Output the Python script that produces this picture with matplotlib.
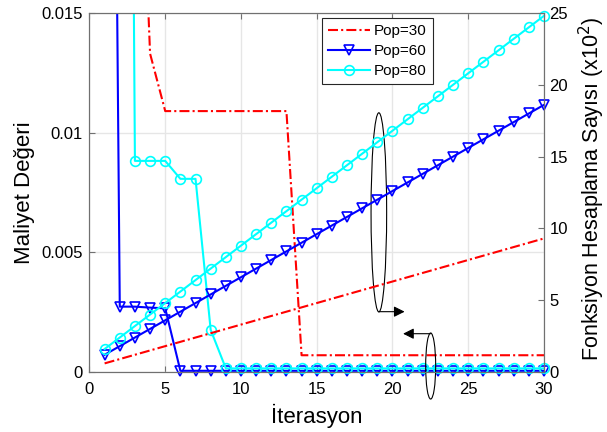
import numpy as np
import matplotlib
matplotlib.use("Agg")
import matplotlib.pyplot as plt
from matplotlib.patches import Ellipse

plt.rcParams['font.family'] = ['Liberation Sans', 'DejaVu Sans']

iterations = list(range(1, 31))

# cost values (left axis)
cost_pop30 = [0.06, 0.04, 0.029, 0.0133] + [0.0109] * 9 + [0.0007] * 17
cost_pop60 = [0.075, 0.00273, 0.00273, 0.00269, 0.00266] + [0.00005] * 25
cost_pop80 = [0.15, 0.1, 0.00882, 0.00882, 0.00882, 0.00807, 0.00807,
              0.00176] + [0.00015] * 22

# function evaluation counts, x10^2 (right axis)
evals_pop30 = [0.6, 0.9, 1.2, 1.5, 1.8, 2.1, 2.4, 2.7, 3.0, 3.3,
               3.6, 3.9, 4.2, 4.5, 4.8, 5.1, 5.4, 5.7, 6.0, 6.3,
               6.6, 6.9, 7.2, 7.5, 7.8, 8.1, 8.4, 8.7, 9.0, 9.3]
evals_pop60 = [1.2, 1.8, 2.4, 3.0, 3.6, 4.2, 4.8, 5.4, 6.0, 6.6,
               7.2, 7.8, 8.4, 9.0, 9.6, 10.2, 10.8, 11.4, 12.0, 12.6,
               13.2, 13.8, 14.4, 15.0, 15.6, 16.2, 16.8, 17.4, 18.0, 18.6]
evals_pop80 = [1.6, 2.4, 3.2, 4.0, 4.8, 5.6, 6.4, 7.2, 8.0, 8.8,
               9.6, 10.4, 11.2, 12.0, 12.8, 13.6, 14.4, 15.2, 16.0, 16.8,
               17.6, 18.4, 19.2, 20.0, 20.8, 21.6, 22.4, 23.2, 24.0, 24.8]

labels = ['Pop=30', 'Pop=60', 'Pop=80']
left_ticks = [0, 0.005, 0.01, 0.015]
left_ticklabels = ['0', '0.005', '0.01', '0.015']
right_ticks = [0, 5, 10, 15, 20, 25]
x_ticks = [0, 5, 10, 15, 20, 25, 30]

fig = plt.figure(figsize=(6.07, 4.32), dpi=100)
ax = fig.add_axes([0.1474, 0.1389, 0.7488, 0.8311])
ax2 = ax.twinx()

red_dash = [4.8, 1.5, 1, 1.5]
styles = [
    dict(color='#ff0000', lw=1.5, dashes=red_dash, marker=None),
    dict(color='#0000ff', lw=1.5, marker='v', ms=7, mfc='none', mew=1.2),
    dict(color='#00ffff', lw=1.5, marker='o', ms=7, mfc='none', mew=1.2),
]
costs = [cost_pop30, cost_pop60, cost_pop80]
evals = [evals_pop30, evals_pop60, evals_pop80]

x = np.array(iterations)
handles = []
for st, c, e, lab in zip(styles, costs, evals, labels):
    c = np.array(c)
    line_kw = {k: v for k, v in st.items() if k in ('color', 'lw', 'dashes')}
    ax.plot(x, c, **line_kw)
    if st['marker']:
        inside = c <= 0.015
        ax.plot(x[inside], c[inside], ls='none', marker=st['marker'],
                ms=st['ms'], mfc='none', mew=st['mew'], color=st['color'],
                clip_on=False)
    h, = ax2.plot(x, e, clip_on=False, label=lab, **st)
    handles.append(h)

ax.set_xlim(0, 30)
ax.set_ylim(0, 0.015)
ax2.set_ylim(0, 25)
ax.set_xticks(x_ticks)
ax.set_yticks(left_ticks)
ax.set_yticklabels(left_ticklabels)
ax2.set_yticks(right_ticks)

ax.grid(True, color='#e6e6e6', lw=1)
ax.set_axisbelow(True)
for a in (ax, ax2):
    for s in a.spines.values():
        s.set_color('#707070')
        s.set_linewidth(0.8)
ax.tick_params(axis='x', direction='in', top=True, length=4, width=0.8,
               color='#707070', labelsize=12, pad=7)
ax.tick_params(axis='y', direction='in', length=4, width=0.8,
               color='#707070', labelsize=12, pad=5)
ax2.tick_params(axis='y', direction='in', length=4, width=0.8,
                color='#707070', labelsize=12, pad=4)

ax.set_xlabel('İterasyon', fontsize=16, va='center')
ax.xaxis.set_label_coords(0.5, -0.123)
ax.set_ylabel('Maliyet Değeri', fontsize=16, va='center')
ax.yaxis.set_label_coords(-0.144, 0.5)
ax2.set_ylabel('Fonksiyon Hesaplama Sayısı (x10$^2$)', fontsize=15.5,
               va='center')
ax2.yaxis.set_label_coords(1.106, 0.51)

# annotation ellipses and arrows (left-axis data coordinates)
e1 = Ellipse((19.1, 0.00667), 1.03, 0.00832, fill=False, ec='black',
             lw=0.8, transform=ax.transData)
e2 = Ellipse((22.52, 0.00025), 0.66, 0.00276, fill=False, ec='black',
             lw=0.8, transform=ax.transData, clip_on=False)
ax2.add_patch(e1)
ax2.add_patch(e2)
ax2.annotate('', xy=(20.8, 0.00252), xytext=(19.1, 0.00252),
             xycoords=ax.transData, textcoords=ax.transData,
             arrowprops=dict(arrowstyle='-|>', color='black', lw=0.8,
                             mutation_scale=16, shrinkA=0, shrinkB=0))
ax2.annotate('', xy=(20.7, 0.0016), xytext=(22.52, 0.0016),
             xycoords=ax.transData, textcoords=ax.transData,
             arrowprops=dict(arrowstyle='-|>', color='black', lw=0.8,
                             mutation_scale=16, shrinkA=0, shrinkB=0))

leg = ax2.legend(handles=handles, loc='upper left',
                 bbox_to_anchor=(0.512, 0.985), fontsize=11,
                 handlelength=2.7, handletextpad=0.3, labelspacing=0.38,
                 borderpad=0.4, borderaxespad=0, fancybox=False,
                 framealpha=1, edgecolor='#262626')
leg.get_frame().set_linewidth(0.8)

fig.savefig('out.png', dpi=100)
